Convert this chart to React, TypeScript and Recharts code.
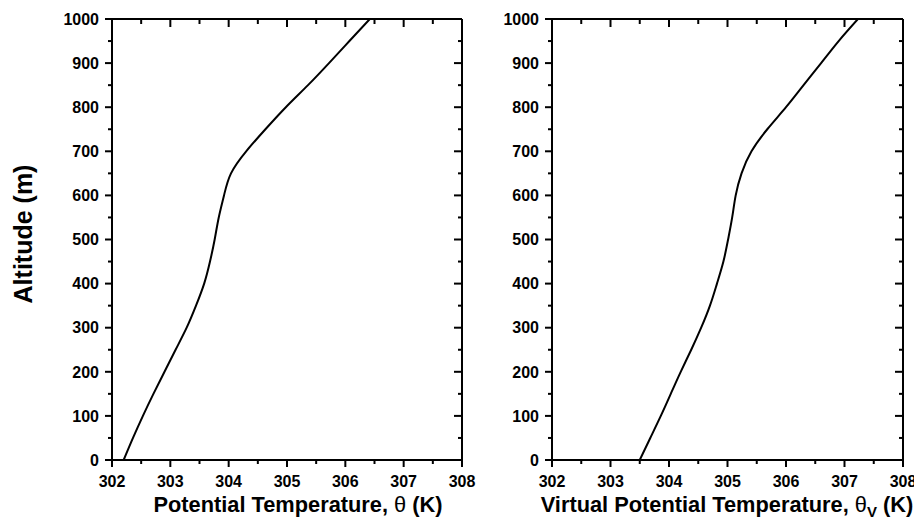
import React from "react";
import { LineChart, Line, XAxis, YAxis } from "recharts";

// altitude levels (m) and temperatures
const altitudes = [0, 50, 100, 150, 200, 250, 300, 350, 400, 450, 500, 550, 600, 650, 700, 750, 800, 850, 900, 950, 1000];
const theta = [302.2, 302.36, 302.53, 302.71, 302.9, 303.09, 303.28, 303.44, 303.58, 303.68, 303.76, 303.83, 303.92, 304.04, 304.3, 304.63, 304.98, 305.36, 305.72, 306.07, 306.42];
const thetaV = [303.5, 303.68, 303.86, 304.03, 304.2, 304.38, 304.55, 304.7, 304.82, 304.93, 305.01, 305.08, 305.14, 305.24, 305.41, 305.68, 306.0, 306.3, 306.6, 306.9, 307.23];

const tempTicks = [302, 302.5, 303, 303.5, 304, 304.5, 305, 305.5, 306, 306.5, 307, 307.5, 308];
const altTicks = [0, 50, 100, 150, 200, 250, 300, 350, 400, 450, 500, 550, 600, 650, 700, 750, 800, 850, 900, 950, 1000];

const FONT = "'Liberation Sans', Arial, sans-serif";

const isMajorTemp = (v: number) => Number.isInteger(v);
const isMajorAlt = (v: number) => v % 100 === 0;

const BottomTick = (props: any) => {
  const { x, y, payload } = props;
  const major = isMajorTemp(payload.value);
  return (
    <g>
      <line x1={x} x2={x} y1={y} y2={y + (major ? 7 : 4)} stroke="#000" strokeWidth={2} />
      {major && (
        <text x={x} y={y + 27} textAnchor="middle" fontFamily={FONT} fontWeight="bold" fontSize={16} fill="#000">
          {payload.value}
        </text>
      )}
    </g>
  );
};

const TopTick = (props: any) => {
  const { x, y, payload } = props;
  const major = isMajorTemp(payload.value);
  return <line x1={x} x2={x} y1={y} y2={y + (major ? 8 : 5)} stroke="#000" strokeWidth={2} />;
};

const LeftTick = (props: any) => {
  const { x, y, payload } = props;
  const major = isMajorAlt(payload.value);
  return (
    <g>
      <line x1={x - (major ? 7 : 4)} x2={x} y1={y} y2={y} stroke="#000" strokeWidth={2} />
      {major && (
        <text x={x - 13} y={y} dy="0.36em" textAnchor="end" fontFamily={FONT} fontWeight="bold" fontSize={16} fill="#000">
          {payload.value}
        </text>
      )}
    </g>
  );
};

const RightTick = (props: any) => {
  const { x, y, payload } = props;
  const major = isMajorAlt(payload.value);
  return <line x1={x - (major ? 8 : 4)} x2={x} y1={y} y2={y} stroke="#000" strokeWidth={2} />;
};

const axisLine = { stroke: "#000", strokeWidth: 2 };

function Profile({ values, width, margin }: { values: number[]; width: number; margin: any }) {
  const data = altitudes.map((a, i) => ({ alt: a, t: values[i] }));
  return (
    <LineChart width={width} height={525} data={data} margin={margin}>
      <XAxis type="number" dataKey="t" domain={[302, 308]} ticks={tempTicks} interval={0} allowDataOverflow
        height={1} tickSize={0} tickMargin={0} axisLine={axisLine} tickLine={false} tick={<BottomTick />} />
      <XAxis xAxisId="top" orientation="top" type="number" dataKey="t" domain={[302, 308]} ticks={tempTicks} interval={0} allowDataOverflow
        height={1} tickSize={0} tickMargin={0} axisLine={axisLine} tickLine={false} tick={<TopTick />} />
      <YAxis type="number" domain={[0, 1000]} ticks={altTicks} interval={0} allowDataOverflow
        width={50} tickSize={0} tickMargin={0} axisLine={axisLine} tickLine={false} tick={<LeftTick />} />
      <YAxis yAxisId="right" orientation="right" type="number" domain={[0, 1000]} ticks={altTicks} interval={0} allowDataOverflow
        width={1} tickSize={0} tickMargin={0} axisLine={axisLine} tickLine={false} tick={<RightTick />} />
      <Line type="natural" dataKey="alt" stroke="#000" strokeWidth={2} dot={false} isAnimationActive={false} />
    </LineChart>
  );
}

export default function App() {
  // wrapper sits in normal flow at (8, 8); inner layer is shifted back to the page origin
  return (
    <div style={{ position: "relative", width: 906, height: 509 }}>
      <div style={{ position: "absolute", left: -8, top: -8, width: 922, height: 525, background: "#fff" }}>
        <div style={{ position: "absolute", left: 0, top: 0 }}>
          <Profile values={theta} width={490} margin={{ top: 18, right: 27, bottom: 64, left: 62 }} />
        </div>
        <div style={{ position: "absolute", left: 470, top: 0 }}>
          <Profile values={thetaV} width={452} margin={{ top: 18, right: 18, bottom: 64, left: 32 }} />
        </div>
        <svg width={922} height={525} style={{ position: "absolute", left: 0, top: 0, pointerEvents: "none" }}>
          <text x={23} y={234} transform="rotate(-90 23 234)" dy="0.36em" textAnchor="middle" fontFamily={FONT} fontWeight="bold" fontSize={25} fill="#000">
            Altitude (m)
          </text>
          <text x={298} y={512} textAnchor="middle" fontFamily={FONT} fontWeight="bold" fontSize={21.8} fill="#000">
            Potential Temperature, <tspan fontWeight="normal">θ</tspan> (K)
          </text>
          <text x={727} y={512} textAnchor="middle" fontFamily={FONT} fontWeight="bold" fontSize={21.8} fill="#000">
            Virtual Potential Temperature, <tspan fontWeight="normal">θ</tspan>
            <tspan fontSize={15} dy={5}>V</tspan>
            <tspan dy={-5}> (K)</tspan>
          </text>
        </svg>
      </div>
    </div>
  );
}
